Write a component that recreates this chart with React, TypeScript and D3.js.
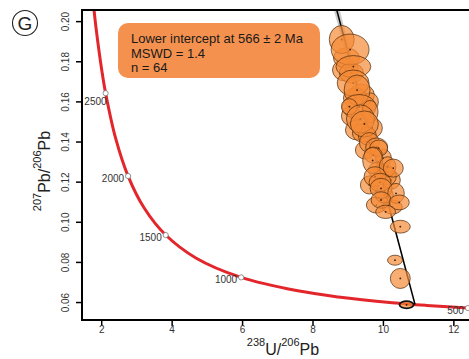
import * as d3 from 'd3'

// Tera-Wasserburg concordia: [age Ma, 238U/206Pb, 207Pb/206Pb]
const concordia: [number, number, number][] = [
  [2900, 1.7603, 0.20939],
  [2800, 1.8384, 0.19691],
  [2600, 2.0129, 0.17445],
  [2500, 2.1108, 0.16434],
  [2250, 2.3941, 0.14192],
  [2000, 2.749, 0.12304],
  [1750, 3.2063, 0.10711],
  [1500, 3.817, 0.09364],
  [1250, 4.6733, 0.08223],
  [1000, 5.9595, 0.07253],
  [800, 7.5683, 0.06583],
  [700, 8.7184, 0.06279],
  [600, 10.2522, 0.05993],
  [550, 11.2284, 0.05857],
  [500, 12.399, 0.05725],
  [480, 12.937, 0.05673],
]
const ageMarkers = [2500, 2000, 1500, 1000, 500]

// discordia: lower intercept and upper end
const discordia: [number, number][] = [
  [10.897, 0.059],
  [8.535, 0.215],
]

// error ellipses: [x, y, sx, sy]
const ellipses: [number, number, number, number][] = [
  [8.921, 0.1759, 0.368, 0.0055],
  [9.374, 0.1634, 0.368, 0.0055],
  [9.091, 0.153, 0.283, 0.005],
  [9.686, 0.147, 0.283, 0.005],
  [9.261, 0.146, 0.34, 0.005],
  [9.487, 0.136, 0.283, 0.0045],
  [9.997, 0.125, 0.283, 0.0045],
  [9.601, 0.1186, 0.255, 0.0045],
  [10.224, 0.121, 0.255, 0.0045],
  [9.799, 0.1086, 0.283, 0.004],
  [10.252, 0.1076, 0.283, 0.0035],
  [8.949, 0.1819, 0.368, 0.005],
  [9.204, 0.1619, 0.34, 0.005],
  [9.402, 0.1445, 0.283, 0.0045],
  [9.544, 0.143, 0.255, 0.0045],
  [9.997, 0.132, 0.227, 0.0045],
  [10.139, 0.123, 0.227, 0.0045],
  [10.025, 0.1136, 0.255, 0.004],
  [9.827, 0.126, 0.255, 0.004],
  [9.629, 0.16, 0.227, 0.0045],
  [9.091, 0.1744, 0.34, 0.005],
  [8.816, 0.1911, 0.354, 0.007],
  [9.054, 0.1861, 0.538, 0.0077],
  [9.147, 0.1776, 0.496, 0.0055],
  [9.139, 0.1694, 0.453, 0.0065],
  [9.252, 0.1659, 0.368, 0.0075],
  [9.309, 0.1575, 0.482, 0.0062],
  [9.034, 0.1576, 0.227, 0.004],
  [9.62, 0.1551, 0.227, 0.0057],
  [9.346, 0.1515, 0.397, 0.007],
  [9.459, 0.149, 0.397, 0.0065],
  [9.601, 0.1397, 0.283, 0.005],
  [9.807, 0.1375, 0.312, 0.0045],
  [9.864, 0.1369, 0.255, 0.0041],
  [9.714, 0.1335, 0.255, 0.004],
  [9.694, 0.1308, 0.283, 0.0065],
  [10.119, 0.1277, 0.235, 0.005],
  [10.28, 0.127, 0.283, 0.0045],
  [9.762, 0.1227, 0.312, 0.005],
  [9.904, 0.1199, 0.312, 0.0045],
  [9.932, 0.1169, 0.312, 0.005],
  [10.357, 0.1144, 0.235, 0.005],
  [9.932, 0.1111, 0.283, 0.0041],
  [10.45, 0.1099, 0.283, 0.0037],
  [10.062, 0.1052, 0.283, 0.0033],
  [10.479, 0.0978, 0.283, 0.0032],
  [10.329, 0.0811, 0.212, 0.0025],
  [10.479, 0.072, 0.283, 0.005],
]
const interceptEllipse: [number, number, number, number] = [10.657, 0.0589, 0.2, 0.0018]

const xTicks = [2, 4, 6, 8, 10, 12]
const yTicks = [0.06, 0.08, 0.1, 0.12, 0.14, 0.16, 0.18, 0.2]
const statLines = ['Lower intercept at 566 ± 2 Ma', 'MSWD = 1.4', 'n = 64']

const W = 469
const H = 359
const left = 82
const top = 10
const bottom = 320
const right = 470
const font = 'Liberation Sans, Arial, sans-serif'

export default function App() {
  const x = d3.scaleLinear().domain([1.44, 12.43]).range([left, 469])
  const y = d3.scaleLinear().domain([0.0513, 0.2058]).range([bottom, top])

  const curve = d3.line<[number, number, number]>()
    .x(d => x(d[1]))
    .y(d => y(d[2]))
    .curve(d3.curveCatmullRom)(concordia) || ''

  const [lo, hi] = discordia
  const env = `M${x(lo[0])},${y(lo[1])} L${x(hi[0] - 0.09)},${y(hi[1])} L${x(hi[0] + 0.09)},${y(hi[1])} Z`

  const drawEllipse = (e: [number, number, number, number], i: number, strong = false) => (
    <g key={i}>
      <ellipse
        cx={x(e[0])}
        cy={y(e[1])}
        rx={x(e[0] + e[2]) - x(e[0])}
        ry={y(e[1]) - y(e[1] + e[3])}
        fill="#f58a36"
        fillOpacity={0.7}
        stroke={strong ? '#111' : '#4a2a0c'}
        strokeOpacity={strong ? 1 : 0.7}
        strokeWidth={strong ? 1.8 : 1}
      />
      <circle cx={x(e[0])} cy={y(e[1])} r={0.9} fill="#3a1e05" />
    </g>
  )

  return (
    <svg width={W} height={H} style={{ position: 'absolute', left: 0, top: 0 }} fontFamily={font}>
      <defs>
        <clipPath id="plotclip">
          <rect x={left} y={top} width={right - left} height={bottom - top} />
        </clipPath>
      </defs>
      <rect width={W} height={H} fill="#fff" />

      {/* panel letter */}
      <circle cx={25} cy={23} r={12.5} fill="none" stroke="#222" strokeWidth={1.1} />
      <text x={25} y={30} textAnchor="middle" fontSize={19} fill="#222">G</text>

      <g clipPath="url(#plotclip)">
        <path d={curve} fill="none" stroke="#e2262b" strokeWidth={3} />
        <path d={env} fill="#aaa" fillOpacity={0.6} />
        <line x1={x(lo[0])} y1={y(lo[1])} x2={x(hi[0])} y2={y(hi[1])} stroke="#000" strokeWidth={1.5} />
        {ellipses.map((e, i) => drawEllipse(e, i))}
        {drawEllipse(interceptEllipse, 999, true)}
        {ageMarkers.map(a => {
          const p = concordia.find(c => c[0] === a)!
          const px = x(p[1])
          const py = y(p[2])
          // labels that would run into the axis drop below the marker instead
          const tight = px - 28 < left
          return (
            <g key={a}>
              <circle cx={px} cy={py} r={2.6} fill="#fff" stroke="#777" strokeWidth={0.8} />
              <text
                x={tight ? px + 1 : px - 4}
                y={tight ? py + 12 : py + 6}
                textAnchor="end"
                fontSize={10}
                fill="#333"
              >
                {a}
              </text>
            </g>
          )
        })}
      </g>

      {/* stats box */}
      <rect x={118} y={23} width={202} height={55} rx={10} fill="#f4914f" />
      {statLines.map((s, i) => (
        <text key={s} x={131} y={43 + i * 14.5} fontSize={13} fill="#1a1a1a">{s}</text>
      ))}

      {/* frame */}
      <line x1={left} y1={top} x2={right} y2={top} stroke="#000" strokeWidth={2} />
      <line x1={left} y1={top - 1} x2={left} y2={bottom + 1} stroke="#000" strokeWidth={2} />
      <line x1={left} y1={bottom} x2={right} y2={bottom} stroke="#000" strokeWidth={2} />

      {/* x axis */}
      {xTicks.map(t => (
        <g key={t}>
          <line x1={x(t)} y1={bottom} x2={x(t)} y2={bottom + 6} stroke="#000" strokeWidth={1.5} />
          <text x={x(t)} y={333} textAnchor="middle" fontSize={10} fill="#333">{t}</text>
        </g>
      ))}
      <text x={283} y={355} textAnchor="middle" fontSize={16} fill="#222">
        <tspan fontSize={11} dy={-9}>238</tspan>
        <tspan dy={9}>U/</tspan>
        <tspan fontSize={11} dy={-9}>206</tspan>
        <tspan dy={9}>Pb</tspan>
      </text>

      {/* y axis */}
      {yTicks.map(t => (
        <g key={t}>
          <line x1={left - 6} y1={y(t)} x2={left} y2={y(t)} stroke="#000" strokeWidth={1.5} />
          <text
            transform={`translate(69,${y(t)}) rotate(-90)`}
            textAnchor="middle"
            fontSize={10}
            fill="#333"
          >
            {t.toFixed(2)}
          </text>
        </g>
      ))}
      <text transform="translate(50,171) rotate(-90)" textAnchor="middle" fontSize={16} fill="#222">
        <tspan fontSize={11} dy={-9}>207</tspan>
        <tspan dy={9}>Pb/</tspan>
        <tspan fontSize={11} dy={-9}>206</tspan>
        <tspan dy={9}>Pb</tspan>
      </text>
    </svg>
  )
}
